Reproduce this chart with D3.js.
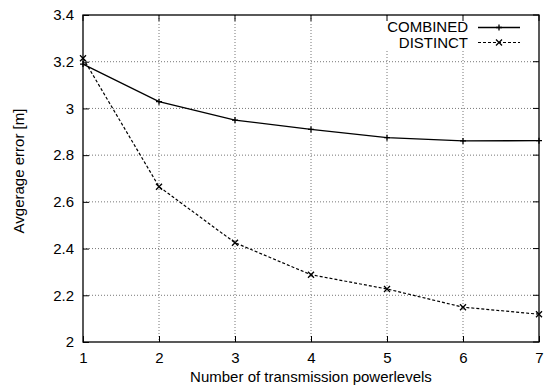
<!DOCTYPE html>
<html><head><meta charset="utf-8">
<script src="https://cdn.jsdelivr.net/npm/d3@7"></script>
<style>body{margin:0;background:#fff}svg{display:block}text{font-family:"Liberation Sans",Arial,sans-serif}</style>
</head><body><svg id="c" width="545" height="392"></svg>
<script>
const xValues = [1,2,3,4,5,6,7];
const combined = [3.19,3.029,2.95,2.91,2.875,2.861,2.862];
const distinct = [3.215,2.665,2.425,2.288,2.227,2.149,2.119];
const yTicks = [2,2.2,2.4,2.6,2.8,3,3.2,3.4];
const yTickLabels = ["2","2.2","2.4","2.6","2.8","3","3.2","3.4"];
const seriesNames = ["COMBINED","DISTINCT"];

const svg = d3.select("#c");
const L=83,R=539,T=15,B=342;
const x = d3.scaleLinear().domain([1,7]).range([L,R]);
const y = d3.scaleLinear().domain([2,3.4]).range([B,T]);

// grid
const g = svg.append("g");
g.selectAll(".gx").data(xValues.slice(1,-1)).enter().append("line")
 .attr("x1",d=>x(d)).attr("x2",d=>x(d)).attr("y1",T).attr("y2",B)
 .attr("stroke","#777").attr("stroke-width",1).attr("stroke-dasharray","1,2");
g.selectAll(".gy").data(yTicks.slice(1,-1)).enter().append("line")
 .attr("x1",L).attr("x2",R).attr("y1",d=>y(d)).attr("y2",d=>y(d))
 .attr("stroke","#777").attr("stroke-width",1).attr("stroke-dasharray","1,2");

// legend blank
svg.append("rect").attr("x",382).attr("y",18).attr("width",150).attr("height",33).attr("fill","#fff");

// axes
const xAxis = d3.axisBottom(x).tickValues(xValues).tickFormat(d3.format("d")).tickSizeInner(-6).tickSizeOuter(0).tickPadding(10);
const yAxis = d3.axisLeft(y).tickValues(yTicks).tickFormat((d,i)=>yTickLabels[i]).tickSizeInner(-6).tickSizeOuter(0).tickPadding(9);
const ax = svg.append("g").attr("transform",`translate(0,${B})`).call(xAxis);
const ay = svg.append("g").attr("transform",`translate(${L},0)`).call(yAxis);
[ax,ay].forEach(a=>{a.select(".domain").remove();a.selectAll("text").attr("font-size",15).attr("fill","#000").style("font-family","Liberation Sans, Arial");a.selectAll("line").attr("stroke","#000");});
// top/right mirrored ticks
svg.append("g").selectAll("line").data(xValues).enter().append("line")
 .attr("x1",d=>x(d)).attr("x2",d=>x(d)).attr("y1",T).attr("y2",T+6).attr("stroke","#000");
svg.append("g").selectAll("line").data(yTicks).enter().append("line")
 .attr("x1",R).attr("x2",R-6).attr("y1",d=>y(d)).attr("y2",d=>y(d)).attr("stroke","#000");
svg.append("rect").attr("x",L).attr("y",T).attr("width",R-L).attr("height",B-T)
 .attr("fill","none").attr("stroke","#000").attr("stroke-width",1.3);

// lines
const line = d3.line().x((d,i)=>x(xValues[i])).y(d=>y(d));
svg.append("path").datum(combined).attr("d",line).attr("fill","none").attr("stroke","#000").attr("stroke-width",1.3);
svg.append("path").datum(distinct).attr("d",line).attr("fill","none").attr("stroke","#000").attr("stroke-width",1.2).attr("stroke-dasharray","3,2");

function plus(sel,cx,cy,s){sel.append("path").attr("d",`M${cx-s},${cy}H${cx+s}M${cx},${cy-s}V${cy+s}`).attr("stroke","#000").attr("stroke-width",1.3).attr("fill","none");}
function cross(sel,cx,cy,s){sel.append("path").attr("d",`M${cx-s},${cy-s}L${cx+s},${cy+s}M${cx-s},${cy+s}L${cx+s},${cy-s}`).attr("stroke","#000").attr("stroke-width",1.3).attr("fill","none");}
const mk = svg.append("g");
combined.forEach((v,i)=>plus(mk,x(xValues[i]),y(v),3));
distinct.forEach((v,i)=>cross(mk,x(xValues[i]),y(v),3));

// legend
const lg = svg.append("g");
lg.append("text").attr("x",468).attr("y",32).attr("text-anchor","end").attr("font-size",15).text(seriesNames[0]);
lg.append("text").attr("x",468).attr("y",48).attr("text-anchor","end").attr("font-size",15).text(seriesNames[1]);
lg.append("line").attr("x1",478).attr("x2",520).attr("y1",27.5).attr("y2",27.5).attr("stroke","#000").attr("stroke-width",1.3);
plus(lg,499,27.5,3);
lg.append("line").attr("x1",478).attr("x2",520).attr("y1",42.5).attr("y2",42.5).attr("stroke","#000").attr("stroke-width",1.2).attr("stroke-dasharray","3,2");
cross(lg,499,42.5,3);

// labels
svg.append("text").attr("x",311).attr("y",382).attr("text-anchor","middle").attr("font-size",15).text("Number of transmission powerlevels");
svg.append("text").attr("transform","translate(24,171) rotate(-90)").attr("text-anchor","middle").attr("font-size",15).text("Avgerage error [m]");
</script></body></html>
